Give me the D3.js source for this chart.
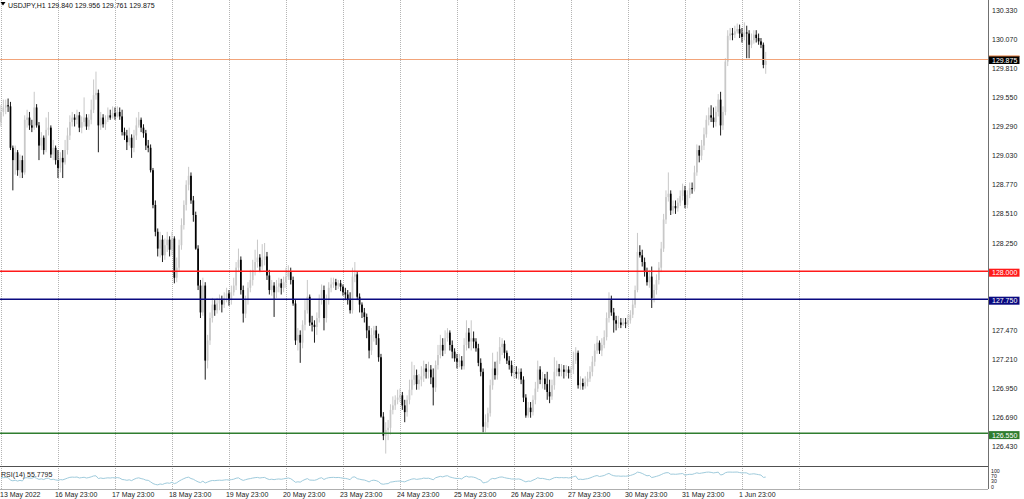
<!DOCTYPE html>
<html><head><meta charset="utf-8">
<script src="https://cdn.jsdelivr.net/npm/d3@7"></script>
<style>html,body{margin:0;padding:0;background:#fff;overflow:hidden}</style>
</head><body>
<svg id="c" width="1024" height="499"></svg>
<script>
const symbol = "USDJPY,H1";
const opens = [
129.26,129.33,129.42,129.46,129.48,129.47,129.10,128.99,129.06,128.90,
128.99,128.88,129.35,129.37,129.30,129.28,129.46,129.30,129.12,129.19,
129.08,129.26,129.28,129.04,129.10,128.99,128.92,129.01,128.97,129.08,
129.21,129.33,129.37,129.35,129.39,129.28,129.33,129.37,129.29,129.35,
129.44,129.57,129.59,129.30,129.37,129.31,129.35,129.39,129.37,129.41,
129.38,129.42,129.38,129.24,129.21,129.15,129.19,129.10,129.21,129.30,
129.35,129.28,129.23,129.12,129.10,128.90,128.59,128.35,128.20,128.28,
128.14,128.23,128.28,128.19,128.29,127.94,128.03,128.23,128.41,128.59,
128.77,128.85,128.63,128.50,128.20,127.87,127.63,127.87,127.20,127.38,
127.58,127.70,127.65,127.71,127.74,127.70,127.76,127.80,127.74,127.81,
127.87,128.03,128.10,127.83,127.62,127.74,127.85,127.92,128.01,128.08,
128.12,128.04,128.10,128.13,127.96,127.83,127.87,127.81,127.86,127.89,
127.85,127.90,127.95,127.99,127.92,127.71,127.38,127.43,127.36,127.52,
127.65,127.77,127.54,127.52,127.50,127.58,127.74,127.83,127.58,127.74,
127.85,127.88,127.90,127.87,127.89,127.86,127.81,127.79,127.74,127.65,
127.95,127.97,127.77,127.70,127.63,127.59,127.47,127.29,127.43,127.47,
127.40,127.23,126.70,126.53,126.58,126.60,126.76,126.80,126.85,126.87,
126.89,126.80,126.74,126.85,126.94,127.03,127.07,126.99,127.03,127.06,
127.13,127.10,127.12,127.05,126.96,127.16,127.25,127.34,127.29,127.40,
127.45,127.34,127.28,127.22,127.19,127.20,127.15,127.34,127.45,127.37,
127.40,127.37,127.31,127.18,127.10,126.61,126.65,126.73,126.98,127.13,
127.07,127.20,127.32,127.35,127.27,127.20,127.16,127.09,127.10,127.08,
127.10,127.03,126.87,126.71,126.78,126.74,126.85,126.95,127.12,127.03,
127.04,126.99,126.92,126.88,126.98,127.10,127.13,127.10,127.12,127.10,
127.12,127.09,127.12,127.20,127.27,126.98,127.00,126.97,127.01,127.04,
127.10,127.19,127.29,127.36,127.29,127.34,127.41,127.58,127.74,127.63,
127.56,127.53,127.54,127.52,127.54,127.53,127.56,127.61,127.70,127.83,
128.17,128.14,128.08,127.99,127.90,127.95,127.76,127.83,127.92,128.03,
128.20,128.46,128.66,128.69,128.54,128.58,128.56,128.61,128.67,128.72,
128.59,128.68,128.74,128.73,128.88,129.08,129.03,129.12,129.22,129.35,
129.39,129.37,129.33,129.42,129.53,129.30,129.42,129.87,130.10,130.12,
130.11,130.14,130.16,130.12,130.09,130.13,130.12,130.02,130.06,130.11,
130.08,130.05,130.02,129.840];
const highs = [
129.37,129.48,129.53,129.53,129.54,129.51,129.12,129.12,129.08,129.04,
129.03,129.39,129.44,129.42,129.35,129.60,129.49,129.33,129.24,129.21,
129.37,129.42,129.30,129.17,129.12,129.08,129.06,129.08,129.17,129.28,
129.39,129.42,129.40,129.44,129.42,129.38,129.55,129.40,129.40,129.53,
129.71,129.78,129.62,129.42,129.40,129.39,129.46,129.44,129.47,129.46,
129.47,129.46,129.44,129.28,129.26,129.28,129.22,129.26,129.37,129.42,
129.37,129.31,129.26,129.17,129.13,128.92,128.63,128.38,128.35,128.32,
128.29,128.35,128.31,128.35,128.31,128.12,128.28,128.47,128.63,128.81,
128.93,128.88,128.67,128.53,128.23,127.92,127.94,127.90,127.43,127.63,
127.76,127.74,127.76,127.79,127.78,127.81,127.85,127.83,127.87,127.94,
128.08,128.20,128.13,127.87,127.78,127.90,128.01,128.10,128.19,128.28,
128.15,128.24,128.25,128.17,128.01,127.92,127.90,127.92,127.94,127.93,
127.95,128.03,128.05,128.03,127.95,127.74,127.49,127.47,127.56,127.74,
127.92,127.79,127.60,127.56,127.63,127.79,127.88,127.87,127.79,127.90,
127.94,127.94,127.93,127.92,127.92,127.88,127.85,127.83,127.81,128.03,
128.08,127.99,127.80,127.72,127.67,127.62,127.51,127.49,127.51,127.51,
127.44,127.26,126.74,126.65,126.67,126.81,126.88,126.89,126.94,126.95,
126.92,126.85,126.89,127.03,127.19,127.16,127.12,127.08,127.15,127.20,
127.17,127.19,127.16,127.13,127.20,127.34,127.43,127.40,127.47,127.49,
127.47,127.38,127.31,127.26,127.26,127.24,127.40,127.56,127.49,127.56,
127.46,127.40,127.35,127.22,127.13,126.72,126.78,127.03,127.27,127.19,
127.28,127.41,127.40,127.38,127.29,127.24,127.20,127.15,127.15,127.13,
127.13,127.06,126.90,126.83,126.83,126.89,127.01,127.20,127.15,127.10,
127.08,127.10,127.03,127.03,127.23,127.20,127.17,127.17,127.16,127.16,
127.15,127.15,127.28,127.32,127.29,127.06,127.04,127.06,127.10,127.15,
127.24,127.35,127.42,127.38,127.40,127.47,127.63,127.81,127.78,127.67,
127.60,127.60,127.58,127.58,127.58,127.61,127.65,127.74,127.87,128.34,
128.23,128.19,128.12,128.03,128.01,128.04,127.88,127.97,128.08,128.26,
128.51,128.72,128.88,128.72,128.63,128.63,128.65,128.72,128.78,128.76,
128.72,128.79,128.79,128.94,129.13,129.12,129.17,129.28,129.39,129.46,
129.48,129.46,129.47,129.58,129.60,129.47,129.90,130.15,130.17,130.17,
130.19,130.21,130.20,130.17,130.22,130.19,130.15,130.12,130.15,130.15,
130.12,130.08,130.04,129.956];
const lows = [
129.21,129.29,129.38,129.40,129.42,129.08,128.72,128.86,128.85,128.83,
128.83,128.86,129.28,129.26,129.24,129.26,129.28,128.99,129.08,129.04,
129.06,129.21,129.01,128.99,128.95,128.83,128.88,128.83,128.95,129.04,
129.17,129.29,129.29,129.31,129.24,129.23,129.29,129.26,129.26,129.31,
129.41,129.53,129.06,129.26,129.28,129.26,129.33,129.35,129.36,129.35,
129.37,129.35,129.21,129.17,129.08,129.12,129.01,129.06,129.17,129.28,
129.24,129.19,129.08,129.06,128.88,128.56,128.31,128.13,128.12,128.08,
128.10,128.17,128.13,128.14,127.89,127.90,127.99,128.19,128.37,128.54,
128.72,128.60,128.44,128.19,127.83,127.58,127.60,127.03,127.13,127.34,
127.54,127.60,127.62,127.65,127.63,127.67,127.72,127.69,127.70,127.78,
127.83,127.99,127.79,127.54,127.58,127.70,127.81,127.87,127.96,128.03,
127.99,128.01,128.05,127.92,127.79,127.78,127.59,127.76,127.81,127.79,
127.81,127.85,127.92,127.88,127.69,127.34,127.29,127.18,127.31,127.47,
127.62,127.51,127.46,127.36,127.43,127.54,127.70,127.47,127.54,127.70,
127.81,127.85,127.83,127.84,127.82,127.78,127.74,127.70,127.62,127.62,
127.90,127.74,127.63,127.58,127.54,127.40,127.22,127.25,127.37,127.34,
127.19,126.69,126.49,126.37,126.49,126.54,126.72,126.76,126.81,126.83,
126.76,126.65,126.70,126.81,126.89,126.98,126.94,126.94,126.97,127.01,
127.04,127.04,126.99,126.80,126.92,127.12,127.22,127.24,127.26,127.37,
127.29,127.22,127.19,127.13,127.14,127.12,127.12,127.29,127.31,127.29,
127.31,127.28,127.15,127.06,126.56,126.56,126.60,126.70,126.94,127.03,
127.03,127.17,127.25,127.22,127.17,127.12,127.06,127.04,127.04,127.03,
126.99,126.83,126.69,126.69,126.69,126.71,126.81,126.92,126.99,126.95,
126.94,126.85,126.82,126.85,126.94,127.06,127.06,127.06,127.04,127.06,
127.04,127.04,127.08,127.17,126.95,126.94,126.94,126.95,126.97,127.01,
127.06,127.15,127.26,127.26,127.24,127.31,127.38,127.54,127.60,127.45,
127.47,127.49,127.49,127.51,127.49,127.51,127.53,127.58,127.67,127.81,
128.12,128.04,127.95,127.87,127.85,127.67,127.72,127.79,127.88,127.99,
128.17,128.42,128.62,128.50,128.51,128.51,128.53,128.58,128.63,128.56,
128.56,128.65,128.69,128.71,128.85,128.97,128.99,129.08,129.19,129.30,
129.33,129.28,129.29,129.38,129.21,129.26,129.39,129.83,130.06,130.06,
130.08,130.12,130.08,130.04,130.06,129.90,129.90,129.99,130.03,130.04,
130.02,129.99,129.81,129.761];
const closes = [
129.33,129.42,129.46,129.48,129.47,129.10,128.99,129.06,128.90,128.99,
128.88,129.35,129.37,129.30,129.28,129.46,129.30,129.12,129.19,129.08,
129.26,129.28,129.04,129.10,128.99,128.92,129.01,128.97,129.08,129.21,
129.33,129.37,129.35,129.39,129.28,129.33,129.37,129.29,129.35,129.44,
129.57,129.59,129.30,129.37,129.31,129.35,129.39,129.37,129.41,129.38,
129.42,129.38,129.24,129.21,129.15,129.19,129.10,129.21,129.30,129.35,
129.28,129.23,129.12,129.10,128.90,128.59,128.35,128.20,128.28,128.14,
128.23,128.28,128.19,128.29,127.94,128.03,128.23,128.41,128.59,128.77,
128.85,128.63,128.50,128.20,127.87,127.63,127.87,127.20,127.38,127.58,
127.70,127.65,127.71,127.74,127.70,127.76,127.80,127.74,127.81,127.87,
128.03,128.10,127.83,127.62,127.74,127.85,127.92,128.01,128.08,128.12,
128.04,128.10,128.13,127.96,127.83,127.87,127.81,127.86,127.89,127.85,
127.90,127.95,127.99,127.92,127.71,127.38,127.43,127.36,127.52,127.65,
127.77,127.54,127.52,127.50,127.58,127.74,127.83,127.58,127.74,127.85,
127.88,127.90,127.87,127.89,127.86,127.81,127.79,127.74,127.65,127.95,
127.97,127.77,127.70,127.63,127.59,127.47,127.29,127.43,127.47,127.40,
127.23,126.70,126.53,126.58,126.60,126.76,126.80,126.85,126.87,126.89,
126.80,126.74,126.85,126.94,127.03,127.07,126.99,127.03,127.06,127.13,
127.10,127.12,127.05,126.96,127.16,127.25,127.34,127.29,127.40,127.45,
127.34,127.28,127.22,127.19,127.20,127.15,127.34,127.45,127.37,127.40,
127.37,127.31,127.18,127.10,126.61,126.65,126.73,126.98,127.13,127.07,
127.20,127.32,127.35,127.27,127.20,127.16,127.09,127.10,127.08,127.10,
127.03,126.87,126.71,126.78,126.74,126.85,126.95,127.12,127.03,127.04,
126.99,126.92,126.88,126.98,127.10,127.13,127.10,127.12,127.10,127.12,
127.09,127.12,127.20,127.27,126.98,127.00,126.97,127.01,127.04,127.10,
127.19,127.29,127.36,127.29,127.34,127.41,127.58,127.74,127.63,127.56,
127.53,127.54,127.52,127.54,127.53,127.56,127.61,127.70,127.83,128.17,
128.14,128.08,127.99,127.90,127.95,127.76,127.83,127.92,128.03,128.20,
128.46,128.66,128.69,128.54,128.58,128.56,128.61,128.67,128.72,128.59,
128.68,128.74,128.73,128.88,129.08,129.03,129.12,129.22,129.35,129.39,
129.37,129.33,129.42,129.53,129.30,129.42,129.87,130.10,130.12,130.11,
130.14,130.16,130.12,130.09,130.13,130.12,130.02,130.06,130.11,130.08,
130.05,130.02,129.84,129.875];

const priceTicks = [130.330,130.070,129.810,129.550,129.290,129.030,128.770,128.510,128.250,127.990,127.730,127.470,127.210,126.950,126.690,126.430];
const levelPrices = [128.000, 127.750, 126.550];
const bidPrice = 129.875;
const separatorBars = [1,25,49,73,97,121,145,169,193,217,241,265,289,313,337];
const dateLabels = ["13 May 2022","16 May 23:00","17 May 23:00","18 May 23:00","19 May 23:00","20 May 23:00","23 May 23:00","24 May 23:00","25 May 23:00","26 May 23:00","27 May 23:00","30 May 23:00","31 May 23:00","1 Jun 23:00"];
const rsiPeriod = 14;
const rsiLastLabel = 55.7795;
const rsiScaleLabels = [100, 70, 30, 0];

// ---------- drawing ----------
const W = 1024, H = 499;
const plotR = 988, mainB = 466, rsiT = 467, rsiB = 489;
const FONT = "'Liberation Sans', Arial, sans-serif";
const svg = d3.select("#c");
const n = closes.length;

const x = d3.scaleLinear().domain([0, n - 1]).range([-1.4, -1.4 + (n - 1) * 2.375]);
const y = d3.scaleLinear().domain([126.259, 130.4196]).range([mainB, 0]);
const yr = d3.scaleLinear().domain([0, 100]).range([rsiB, rsiT + 1]);

svg.append("rect").attr("width", W).attr("height", H).attr("fill", "#fff");

const defs = svg.append("defs");
defs.append("clipPath").attr("id", "mainClip").append("rect")
  .attr("x", 0).attr("y", 0).attr("width", plotR).attr("height", mainB);
defs.append("clipPath").attr("id", "rsiClip").append("rect")
  .attr("x", 0).attr("y", rsiT).attr("width", plotR).attr("height", rsiB - rsiT);

// vertical separators
svg.append("g").selectAll("line").data(separatorBars).join("line")
  .attr("x1", d => Math.round(x(d)) + 0.5).attr("x2", d => Math.round(x(d)) + 0.5)
  .attr("y1", 0).attr("y2", rsiB)
  .attr("stroke", "#b4b4b4").attr("stroke-width", 1).attr("stroke-dasharray", "1,1");

// candles
const main = svg.append("g").attr("clip-path", "url(#mainClip)");
const idx = d3.range(n);
const bull = i => closes[i] >= opens[i];
main.append("g").selectAll("line").data(idx).join("line")
  .attr("x1", i => x(i)).attr("x2", i => x(i))
  .attr("y1", i => y(highs[i])).attr("y2", i => y(lows[i]))
  .attr("stroke", i => bull(i) ? "#c2c2c2" : "#000").attr("stroke-width", 0.9);
main.append("g").selectAll("rect").data(idx).join("rect")
  .attr("x", i => x(i) - 0.85).attr("width", 1.7)
  .attr("y", i => y(Math.max(opens[i], closes[i])))
  .attr("height", i => Math.max(1, Math.abs(y(opens[i]) - y(closes[i]))))
  .attr("fill", i => bull(i) ? "#c8c8c8" : "#000");

// horizontal levels
const levelColors = ["#ff1a1a", "#0a0a80", "#2f7d2f"];
svg.append("g").selectAll("line").data(levelPrices).join("line")
  .attr("x1", 0).attr("x2", plotR)
  .attr("y1", d => Math.round(y(d)) + 0.25).attr("y2", d => Math.round(y(d)) + 0.25)
  .attr("stroke", (d, k) => levelColors[k]).attr("stroke-width", 1.5);
// bid line
svg.append("line").attr("x1", 0).attr("x2", plotR)
  .attr("y1", Math.round(y(bidPrice)) - 1.5).attr("y2", Math.round(y(bidPrice)) - 1.5)
  .attr("stroke", "#f2a47a").attr("stroke-width", 1);

// frame
svg.append("line").attr("x1", plotR + 0.5).attr("x2", plotR + 0.5).attr("y1", 0).attr("y2", rsiB)
  .attr("stroke", "#707070");
svg.append("line").attr("x1", 0).attr("x2", plotR).attr("y1", mainB + 0.5).attr("y2", mainB + 0.5)
  .attr("stroke", "#505050").attr("stroke-width", 1.2);
svg.append("line").attr("x1", 0).attr("x2", plotR).attr("y1", rsiB + 0.5).attr("y2", rsiB + 0.5)
  .attr("stroke", "#9a9a9a").attr("stroke-width", 0.8);

// price axis labels
svg.append("g").selectAll("text").data(priceTicks).join("text")
  .attr("x", 992).attr("y", d => y(d) + 2.6)
  .attr("font-family", FONT).attr("font-size", 7).attr("fill", "#222")
  .text(d => d3.format(".3f")(d));

// level boxes
const boxes = svg.append("g");
levelPrices.forEach((p, k) => {
  boxes.append("rect").attr("x", 989).attr("y", y(p) - 2.3).attr("width", 30.5).attr("height", 8)
    .attr("fill", levelColors[k]);
  boxes.append("text").attr("x", 992).attr("y", y(p) + 4.3)
    .attr("font-family", FONT).attr("font-size", 7).attr("fill", "#fff")
    .text(d3.format(".3f")(p));
});
boxes.append("rect").attr("x", 989).attr("y", y(bidPrice) - 5).attr("width", 30.5).attr("height", 8)
  .attr("fill", "#000");
boxes.append("line").attr("x1", 989).attr("x2", 1019.5).attr("y1", y(bidPrice) - 5).attr("y2", y(bidPrice) - 5)
  .attr("stroke", "#e07a3a").attr("stroke-width", 1);
boxes.append("text").attr("x", 992).attr("y", y(bidPrice) + 1.6)
  .attr("font-family", FONT).attr("font-size", 7).attr("fill", "#fff")
  .text(d3.format(".3f")(bidPrice));

// header
svg.append("path").attr("d", "M0.5,2 L5.5,2 L3,5.5 Z").attr("fill", "#000");
const last = n - 1;
svg.append("text").attr("x", 8).attr("y", 7.5)
  .attr("font-family", FONT).attr("font-size", 7).attr("fill", "#111")
  .text(`${symbol} ${d3.format(".3f")(opens[last])} ${d3.format(".3f")(highs[last])} ${d3.format(".3f")(lows[last])} ${d3.format(".3f")(closes[last])}`);

// RSI (14), Wilder smoothing of the closes
const rsi = [];
{
  const first = d3.range(1, rsiPeriod + 1).map(i => Math.abs(closes[i] - closes[i - 1]));
  let ag = d3.mean(first) / 2, al = d3.mean(first) / 2;
  for (let i = 1; i < n; i++) {
    const d = closes[i] - closes[i - 1];
    ag = (ag * (rsiPeriod - 1) + Math.max(d, 0)) / rsiPeriod;
    al = (al * (rsiPeriod - 1) + Math.max(-d, 0)) / rsiPeriod;
    rsi.push([i, al === 0 ? 100 : 100 - 100 / (1 + ag / al)]);
  }
}
svg.append("g").attr("clip-path", "url(#rsiClip)").append("path")
  .datum(rsi)
  .attr("d", d3.line().x(d => x(d[0])).y(d => yr(d[1])))
  .attr("fill", "none").attr("stroke", "#9fcbdc").attr("stroke-width", 1);

svg.append("text").attr("x", 1).attr("y", 476.5)
  .attr("font-family", FONT).attr("font-size", 7).attr("fill", "#222")
  .text(`RSI(${rsiPeriod}) ${rsiLastLabel}`);

// RSI scale labels: small and stacked so they stay legible in the thin window
const rsiLabelBase = [472.6, 477.9, 483.2, 488.5];
svg.append("g").selectAll("text").data(rsiScaleLabels).join("text")
  .attr("x", 991).attr("y", (d, k) => rsiLabelBase[k])
  .attr("font-family", FONT).attr("font-size", 5.2).attr("fill", "#222")
  .text(d => d);

// date axis
svg.append("g").selectAll("text").data(dateLabels).join("text")
  .attr("x", (d, k) => k === 0 ? 0 : x(separatorBars[k]) - 3)
  .attr("y", 496.5)
  .attr("font-family", FONT).attr("font-size", 7).attr("fill", "#222")
  .text(d => d);
</script>
</body></html>
